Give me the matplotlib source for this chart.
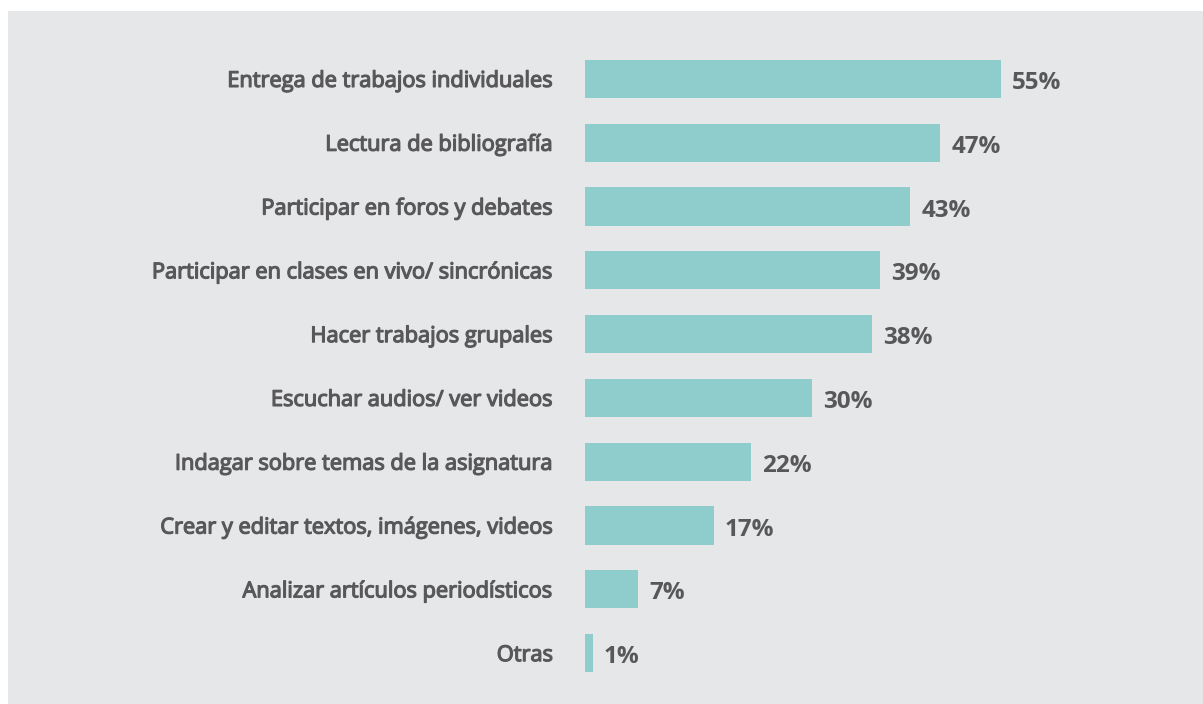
import matplotlib.pyplot as plt
import matplotlib.patheffects as pe
from matplotlib.patches import Rectangle

categorias = [
    "Entrega de trabajos individuales",
    "Lectura de bibliografía",
    "Participar en foros y debates",
    "Participar en clases en vivo/ sincrónicas",
    "Hacer trabajos grupales",
    "Escuchar audios/ ver videos",
    "Indagar sobre temas de la asignatura",
    "Crear y editar textos, imágenes, videos",
    "Analizar artículos periodísticos",
    "Otras",
]
valores = [55, 47, 43, 39, 38, 30, 22, 17, 7, 1]

fondo = "#E6E7E9"
barra = "#8ECDCB"
texto = "#58585A"

W, H = 1203, 704
fig = plt.figure(figsize=(W / 100, H / 100), dpi=100, facecolor="white")
fig.patches.append(Rectangle((8 / W, 0), 1 - 8 / W, 1 - 11 / H,
                             transform=fig.transFigure, facecolor=fondo,
                             edgecolor="none", zorder=-10))

ax = fig.add_axes([585 / W, 1 - 685 / H, 605 / W, 638 / H])
ax.set_facecolor("none")
ax.set_zorder(1)

pos = list(range(len(categorias)))
ax.barh(pos, valores, height=0.6, color=barra)
ax.set_xlim(0, 80)
ax.set_ylim(len(categorias) - 0.5, -0.5)

for y, v in zip(pos, valores):
    ax.annotate(f"{v}%", (v, y), xytext=(8, -3), textcoords="offset points",
                ha="left", va="center", fontsize=17.5, fontweight="bold",
                color=texto, family="Open Sans")

ax.set_yticks(pos)
ax.set_yticklabels(categorias, fontsize=15.7, color=texto, family="Open Sans")
# no semibold cut installed: thicken the regular strokes a little
semi = [pe.withStroke(linewidth=0.9, foreground=texto)]
for t in ax.get_yticklabels():
    t.set_path_effects(semi)
ax.tick_params(axis="y", length=0, pad=23)
ax.set_xticks([])
for s in ax.spines.values():
    s.set_visible(False)

fig.savefig("out.png", dpi=100, facecolor=fig.get_facecolor())
